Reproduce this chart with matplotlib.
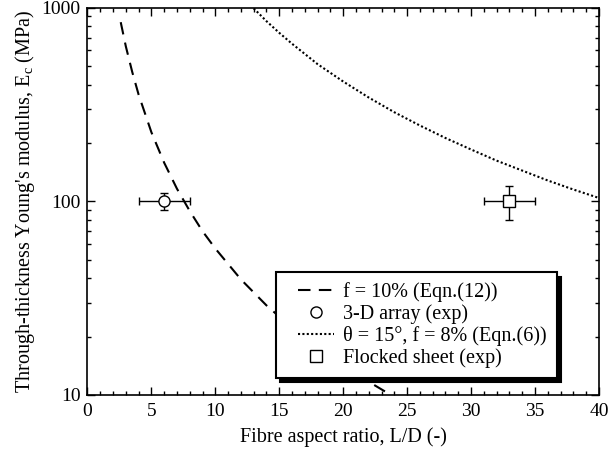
import matplotlib
matplotlib.use("Agg")
import matplotlib.pyplot as plt
from matplotlib.lines import Line2D
from matplotlib.legend_handler import HandlerLine2D
from matplotlib.ticker import FixedLocator, NullFormatter, MultipleLocator

plt.rcParams['font.family'] = ['Liberation Serif', 'DejaVu Serif']
plt.rcParams['mathtext.fontset'] = 'custom'
plt.rcParams['mathtext.rm'] = 'Liberation Serif'
plt.rcParams['mathtext.it'] = 'Liberation Serif'

# Eqn.(12), f = 10%
eq12_x = [2.6, 3.0, 3.5, 4.0, 5.0, 6.0, 7.0, 8.0, 9.0, 10.0, 12.0, 14.0, 16.0, 18.0, 20.0, 22.0, 23.3]
eq12_y = [840, 630, 465, 355, 227, 158, 116, 89, 70, 57, 39.5, 29, 22.2, 17.5, 14.2, 11.7, 10.4]

# Eqn.(6), theta = 15 deg, f = 8%
eq6_x = [13, 14, 15, 16, 18, 20, 22, 24, 26, 28, 30, 32, 34, 36, 38, 40]
eq6_y = [990, 850, 740, 650, 510, 415, 343, 288, 246, 212, 185, 162, 144, 128, 115, 104]

# experiments
arr3d_x, arr3d_y = [6.0], [100.0]
arr3d_xerr, arr3d_yerr = [2.0], [10.0]
flock_x, flock_y = [33.0], [100.0]
flock_xerr, flock_yerr = [2.0], [20.0]

x_ticks = [0, 5, 10, 15, 20, 25, 30, 35, 40]
y_ticks = [10, 100, 1000]

FS = 14.5
DASH = (0, (6, 4))
DOT = (0, (1, 1.1))
LW = 1.5

fig = plt.figure(figsize=(6.13, 4.55), dpi=100)
ax = fig.add_axes([0.1427, 0.1319, 0.977 - 0.1427, 0.9835 - 0.1319])

ax.plot(eq12_x, eq12_y, color='black', lw=LW, linestyle=DASH)
ax.plot(eq6_x, eq6_y, color='black', lw=LW, linestyle=DOT)
ax.errorbar(arr3d_x, arr3d_y, xerr=arr3d_xerr, yerr=arr3d_yerr, fmt='o', mfc='white',
            mec='black', ms=8, mew=1, ecolor='black', elinewidth=1, capsize=3, capthick=1, zorder=3)
ax.errorbar(flock_x, flock_y, xerr=flock_xerr, yerr=flock_yerr, fmt='s', mfc='white',
            mec='black', ms=8.5, mew=1, ecolor='black', elinewidth=1, capsize=3, capthick=1, zorder=3)

ax.set_yscale('log')
ax.set_xlim(0, 40)
ax.set_ylim(10, 1000)
ax.set_xticks(x_ticks)
ax.set_xticklabels([str(t) for t in x_ticks])
ax.xaxis.set_minor_locator(MultipleLocator(1))
ax.yaxis.set_major_locator(FixedLocator(y_ticks))
ax.set_yticklabels([str(t) for t in y_ticks])
ax.yaxis.set_minor_locator(FixedLocator([m * d for d in (10, 100) for m in range(2, 10)]))
ax.yaxis.set_minor_formatter(NullFormatter())
ax.tick_params(which='both', direction='in', top=True, right=True, labelsize=14, width=1)
ax.tick_params(axis='x', pad=6)
ax.tick_params(axis='y', pad=5)
ax.tick_params(which='major', length=5.5)
ax.tick_params(which='minor', length=3)
for s in ax.spines.values():
    s.set_linewidth(1.2)

ax.set_xlabel('Fibre aspect ratio, L/D (-)', fontsize=FS, labelpad=5)
ax.set_ylabel("Through-thickness Young's modulus, E$_\\mathregular{c}$ (MPa)", fontsize=FS, labelpad=3)

handles = [
    Line2D([], [], color='black', lw=LW, linestyle=DASH),
    Line2D([], [], marker='o', ls='none', mfc='white', mec='black', ms=8, mew=1),
    Line2D([], [], color='black', lw=LW, linestyle=DOT),
    Line2D([], [], marker='s', ls='none', mfc='white', mec='black', ms=8.5, mew=1),
]
labels = ['f = 10% (Eqn.(12))', '3-D array (exp)', 'θ = 15°, f = 8% (Eqn.(6))', 'Flocked sheet (exp)']
hmap = {h: HandlerLine2D(xpad=0.6) for h in handles}
leg = ax.legend(handles, labels, handler_map=hmap, loc='lower right', bbox_to_anchor=(0.918, 0.044),
                fontsize=FS, frameon=True, fancybox=False, edgecolor='black',
                handlelength=2.4, handletextpad=0.45, labelspacing=0.1, borderpad=0.5,
                borderaxespad=0,
                shadow={'ox': 3, 'oy': -3, 'color': 'black', 'alpha': 1.0})
leg.get_frame().set_linewidth(1.5)
leg.get_frame().set_alpha(1)
leg.get_frame().set_facecolor('white')

fig.savefig('out.png', dpi=100)
